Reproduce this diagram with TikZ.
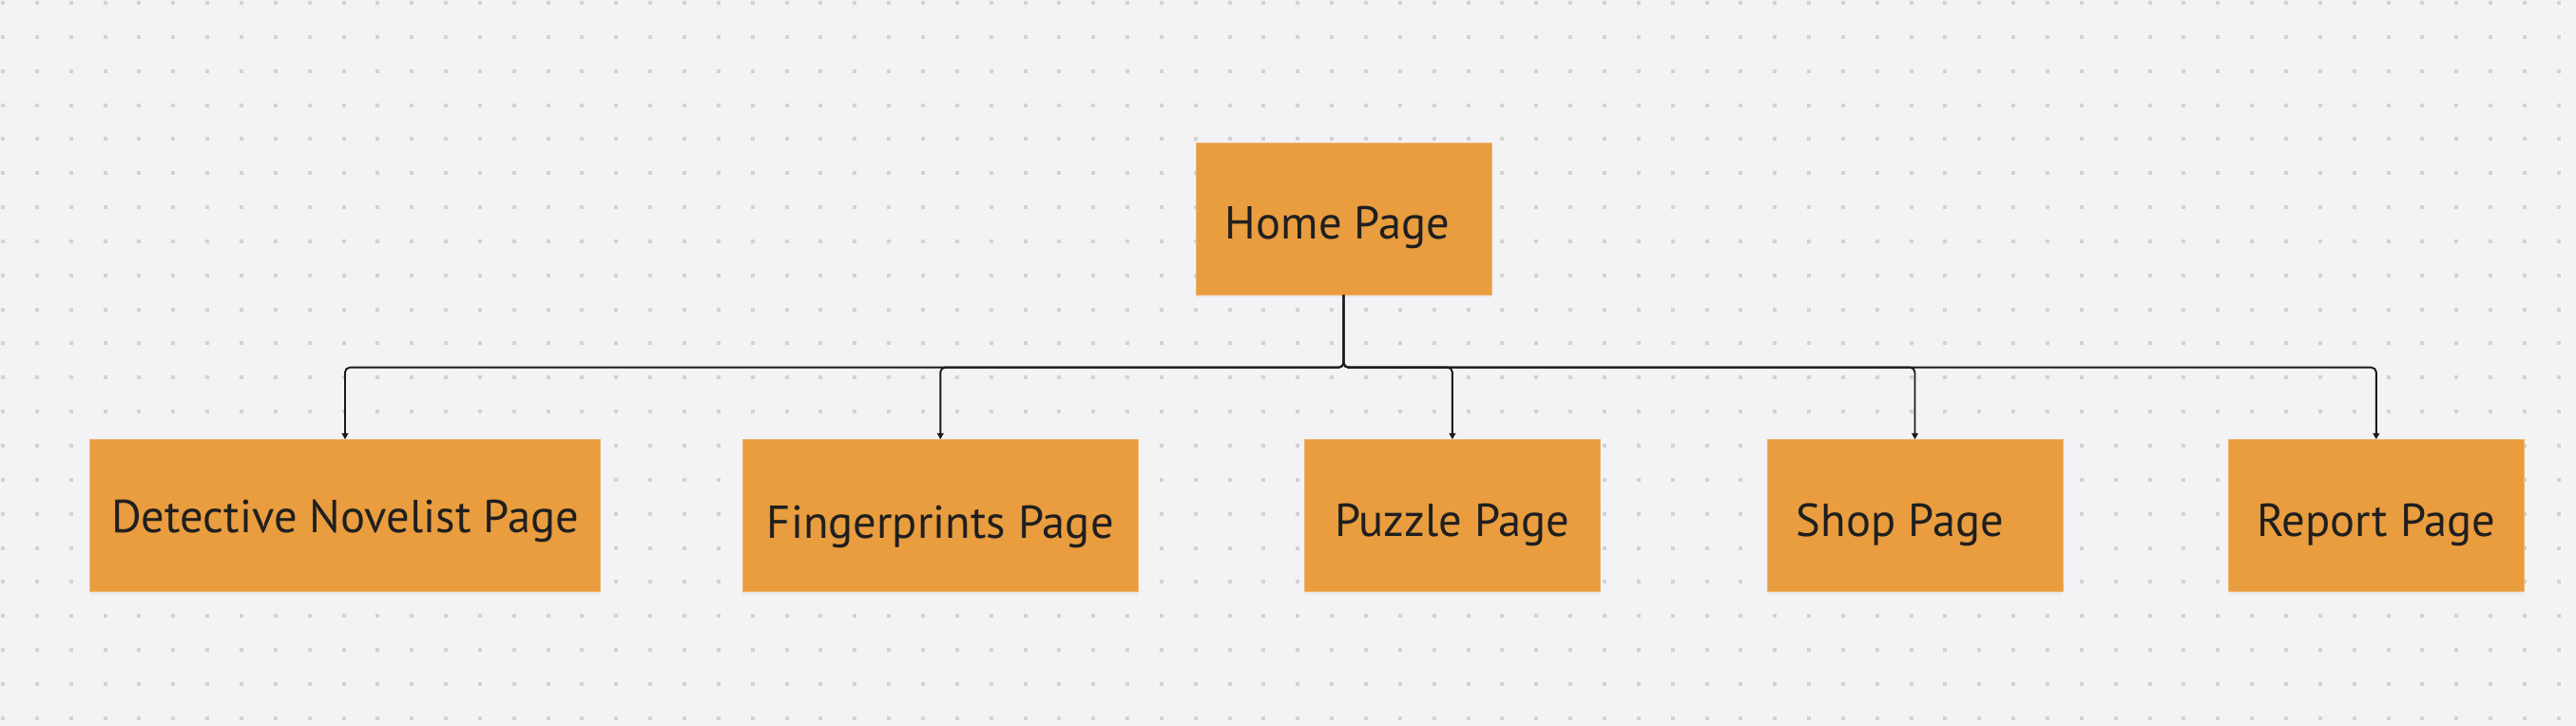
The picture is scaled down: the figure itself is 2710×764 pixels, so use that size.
\documentclass[tikz,border=0pt]{standalone}
\usepackage{fontspec}
\setmainfont{PT Sans}
\usetikzlibrary{arrows.meta,shadows}
\definecolor{bgc}{HTML}{F3F3F5}
\definecolor{dotc}{HTML}{D2D2D4}
\definecolor{boxc}{HTML}{E99D3E}
\definecolor{linec}{HTML}{1A1A1A}
\newcommand\pglabel[2]{\raisebox{-#1pt}[0pt][0pt]{#2}}
\begin{document}
\begin{tikzpicture}[x=0.5pt,y=-0.5pt,
  pagebox/.style={fill=boxc, draw=boxc!75!white, line width=0.4pt, minimum height=80pt,
    inner sep=0pt, font=\fontsize{24.3}{28}\selectfont, text=black!88,
    drop shadow={opacity=0.08, shadow xshift=0pt, shadow yshift=-1.5pt}},
  conn/.style={draw=linec, line width=0.95pt, rounded corners=2.5pt},
  tip/.style={-{Triangle[length=3.2pt,width=3.4pt]}}]
\useasboundingbox (0,0) rectangle (2710,764);
\fill[bgc] (0,0) rectangle (2710,764);
\foreach \i in {0,...,75}{\foreach \j in {0,...,21}{
  \fill[dotc] ({1+35.85*\i},{1+35.85*\j}) rectangle ++(4,4);}}
\node[pagebox, minimum width=155.5pt] (home) at (1413.5,230) {\hspace*{-6.5pt}\pglabel{10.85}{Home Page}};
\node[pagebox, minimum width=268.7pt] (det) at (363,542.7) {\pglabel{8.65}{Detective Novelist Page}};
\node[pagebox, minimum width=208.3pt] (fing) at (989.3,542.7) {\pglabel{12}{Fingerprints Page}};
\node[pagebox, minimum width=155.2pt] (puz) at (1527.9,542.7) {\pglabel{10.65}{Puzzle Page}};
\node[pagebox, minimum width=155.5pt] (shop) at (2014.5,542.7) {\hspace*{-15.5pt}\pglabel{10.65}{Shop Page}};
\node[pagebox, minimum width=155.2pt] (rep) at (2499.8,542.7) {\pglabel{10.65}{Report Page}};
\coordinate (bus) at (0,386.7);
\foreach \c in {det,fing,puz,shop,rep}
  \draw[conn,tip] (home.south) |- (\c.north |- bus) -- (\c.north);
\end{tikzpicture}
\end{document}
